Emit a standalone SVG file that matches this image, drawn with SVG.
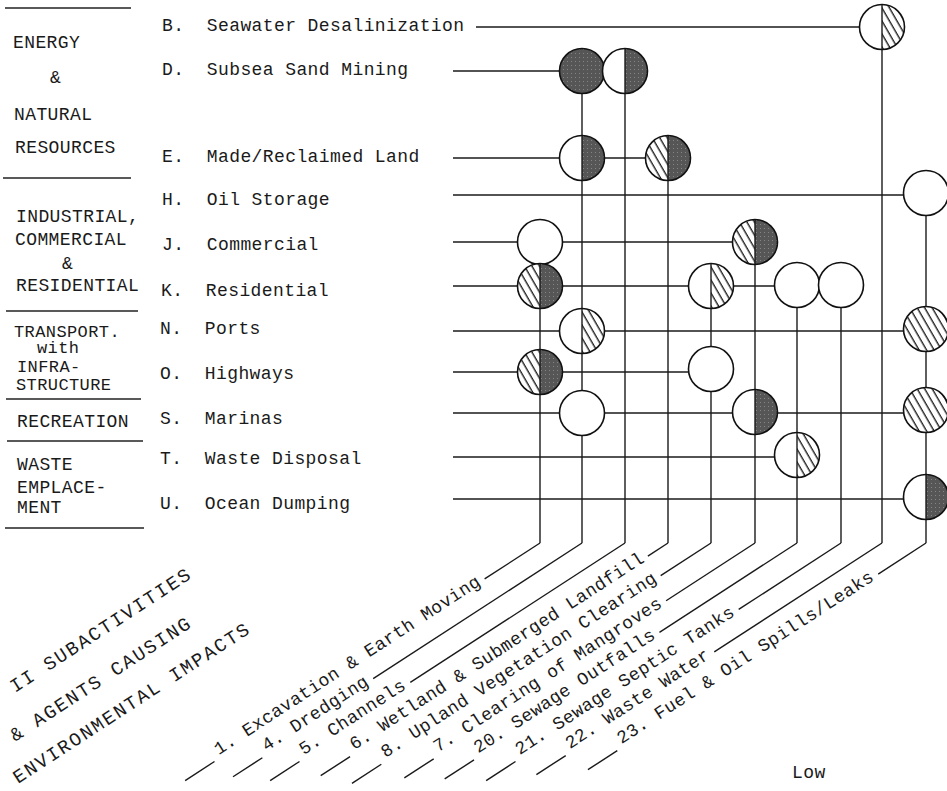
<svg xmlns="http://www.w3.org/2000/svg" xmlns:xlink="http://www.w3.org/1999/xlink" width="947" height="791" viewBox="0 0 947 791">
<style>
.t{font-family:"Liberation Mono","DejaVu Sans Mono",monospace;font-size:18px;letter-spacing:0.4px;fill:#1a1a1a;white-space:pre}
.ttl{font-family:"Liberation Mono","DejaVu Sans Mono",monospace;font-size:19px;letter-spacing:1.9px;fill:#1a1a1a;white-space:pre}
.ln{stroke:#1a1a1a;stroke-width:1.4;fill:none}
.rule{stroke:#222;stroke-width:1.6}
.co{fill:#fff;stroke:#111;stroke-width:1.6}
.ol{fill:none;stroke:#111;stroke-width:1.6}
</style>
<defs>
<pattern id="hatch" patternUnits="userSpaceOnUse" width="6.5" height="12" patternTransform="rotate(-30)">
<rect width="6.5" height="12" fill="#fff"/>
<line x1="3" y1="0" x2="3" y2="12" stroke="#111" stroke-width="1.3"/>
</pattern>
<pattern id="dark" patternUnits="userSpaceOnUse" width="4" height="4">
<rect width="4" height="4" fill="#565656"/>
<rect x="1" y="2" width="1" height="1" fill="#858585"/>
</pattern>
<g id="s-open"><circle r="22.5" class="co"/></g>
<g id="s-dark"><circle r="22.5" fill="url(#dark)"/><circle r="22.5" class="ol"/></g>
<g id="s-hatch"><circle r="22.5" fill="url(#hatch)"/><circle r="22.5" class="ol"/></g>
<g id="s-wd"><circle r="22.5" fill="#fff"/><path d="M0,-22.5 A22.5,22.5 0 0 1 0,22.5 Z" fill="url(#dark)"/><line x1="0" y1="-22.5" x2="0" y2="22.5" class="ln"/><circle r="22.5" class="ol"/></g>
<g id="s-hd"><path d="M0,-22.5 A22.5,22.5 0 0 0 0,22.5 Z" fill="url(#hatch)"/><path d="M0,-22.5 A22.5,22.5 0 0 1 0,22.5 Z" fill="url(#dark)"/><line x1="0" y1="-22.5" x2="0" y2="22.5" class="ln"/><circle r="22.5" class="ol"/></g>
<g id="s-wh"><path d="M0,-22.5 A22.5,22.5 0 0 0 0,22.5 Z" fill="#fff"/><path d="M0,-22.5 A22.5,22.5 0 0 1 0,22.5 Z" fill="url(#hatch)"/><line x1="0" y1="-22.5" x2="0" y2="22.5" class="ln"/><circle r="22.5" class="ol"/></g>
</defs>
<rect width="947" height="791" fill="#fff"/>

<g id="categories">
<line class="rule" x1="5" y1="8" x2="131" y2="8"/>
<text class="t" x="13" y="48">ENERGY</text>
<text class="t" x="50" y="83">&amp;</text>
<text class="t" x="14" y="120">NATURAL</text>
<text class="t" x="15" y="153">RESOURCES</text>
<line class="rule" x1="3" y1="178" x2="131" y2="178"/>
<text class="t" x="16" y="222">INDUSTRIAL,</text>
<text class="t" x="15" y="245">COMMERCIAL</text>
<text class="t" x="62" y="269">&amp;</text>
<text class="t" x="16" y="291">RESIDENTIAL</text>
<line class="rule" x1="6" y1="311" x2="138" y2="311"/>
<text class="t" x="14" y="337" style="font-size:17px">TRANSPORT.</text>
<text class="t" x="37" y="353" style="font-size:17px">with</text>
<text class="t" x="17" y="372" style="font-size:17px">INFRA-</text>
<text class="t" x="16" y="390" style="font-size:17px">STRUCTURE</text>
<line class="rule" x1="6" y1="399" x2="141" y2="399"/>
<text class="t" x="17" y="427">RECREATION</text>
<line class="rule" x1="7" y1="441" x2="143" y2="441"/>
<text class="t" x="17" y="470">WASTE</text>
<text class="t" x="17" y="493">EMPLACE-</text>
<text class="t" x="17" y="513">MENT</text>
<line class="rule" x1="5" y1="528" x2="144" y2="528"/>
</g>

<g id="row-labels">
<text class="t" x="162" y="31" xml:space="preserve">B.  Seawater Desalinization</text>
<text class="t" x="162" y="75" xml:space="preserve">D.  Subsea Sand Mining</text>
<text class="t" x="162" y="162" xml:space="preserve">E.  Made/Reclaimed Land</text>
<text class="t" x="162" y="205" xml:space="preserve">H.  Oil Storage</text>
<text class="t" x="162" y="250" xml:space="preserve">J.  Commercial</text>
<text class="t" x="161" y="296" xml:space="preserve">K.  Residential</text>
<text class="t" x="160" y="334" xml:space="preserve">N.  Ports</text>
<text class="t" x="160" y="379" xml:space="preserve">O.  Highways</text>
<text class="t" x="160" y="424" xml:space="preserve">S.  Marinas</text>
<text class="t" x="160" y="464" xml:space="preserve">T.  Waste Disposal</text>
<text class="t" x="160" y="509" xml:space="preserve">U.  Ocean Dumping</text>
</g>

<g id="connectors">
<line class="ln" x1="476" y1="27" x2="882" y2="27"/>
<line class="ln" x1="453" y1="71" x2="625" y2="71"/>
<line class="ln" x1="453" y1="158" x2="668" y2="158"/>
<line class="ln" x1="453" y1="195" x2="926" y2="195"/>
<line class="ln" x1="453" y1="242" x2="755" y2="242"/>
<line class="ln" x1="453" y1="286" x2="841" y2="286"/>
<line class="ln" x1="453" y1="331" x2="926" y2="331"/>
<line class="ln" x1="453" y1="372" x2="711" y2="372"/>
<line class="ln" x1="453" y1="413" x2="926" y2="413"/>
<line class="ln" x1="453" y1="457" x2="797" y2="457"/>
<line class="ln" x1="453" y1="499" x2="926" y2="499"/>
<line class="ln" x1="540" y1="242" x2="540" y2="543"/>
<line class="ln" x1="582" y1="71" x2="582" y2="543"/>
<line class="ln" x1="625" y1="71" x2="625" y2="543"/>
<line class="ln" x1="668" y1="158" x2="668" y2="543"/>
<line class="ln" x1="711" y1="286" x2="711" y2="543"/>
<line class="ln" x1="755" y1="242" x2="755" y2="543"/>
<line class="ln" x1="797" y1="286" x2="797" y2="543"/>
<line class="ln" x1="841" y1="286" x2="841" y2="543"/>
<line class="ln" x1="882" y1="27" x2="882" y2="543"/>
<line class="ln" x1="926" y1="195" x2="926" y2="543"/>
<line class="ln" transform="translate(540,543) rotate(-33)" x1="-66" y1="0" x2="0" y2="0"/>
<line class="ln" transform="translate(582,543) rotate(-33)" x1="-249" y1="0" x2="0" y2="0"/>
<line class="ln" transform="translate(625,543) rotate(-33)" x1="-256" y1="0" x2="0" y2="0"/>
<line class="ln" transform="translate(668,543) rotate(-33)" x1="-24" y1="0" x2="0" y2="0"/>
<line class="ln" transform="translate(711,543) rotate(-33)" x1="-60" y1="0" x2="0" y2="0"/>
<line class="ln" transform="translate(755,543) rotate(-33)" x1="-106" y1="0" x2="0" y2="0"/>
<line class="ln" transform="translate(797,543) rotate(-33)" x1="-164" y1="0" x2="0" y2="0"/>
<line class="ln" transform="translate(841,543) rotate(-33)" x1="-122" y1="0" x2="0" y2="0"/>
<line class="ln" transform="translate(882,543) rotate(-33)" x1="-200" y1="0" x2="0" y2="0"/>
<line class="ln" transform="translate(926,543) rotate(-33)" x1="-57" y1="0" x2="0" y2="0"/>
</g>

<g id="n-B22"><use href="#s-wh" x="882" y="27"/></g>
<g id="n-D4"><use href="#s-dark" x="582" y="71"/></g>
<g id="n-D5"><use href="#s-wd" x="625" y="71"/></g>
<g id="n-E4"><use href="#s-wd" x="582" y="158"/></g>
<g id="n-E6"><use href="#s-hd" x="668" y="158"/></g>
<g id="n-H23"><use href="#s-open" x="926" y="193"/></g>
<g id="n-J1"><use href="#s-open" x="540" y="242"/></g>
<g id="n-J7"><use href="#s-hd" x="755" y="242"/></g>
<g id="n-K1"><use href="#s-hd" x="540" y="286"/></g>
<g id="n-K8"><use href="#s-wh" x="711" y="286"/></g>
<g id="n-K20"><use href="#s-open" x="797" y="285"/></g>
<g id="n-K21"><use href="#s-open" x="841" y="285"/></g>
<g id="n-N4"><use href="#s-wh" x="582" y="331"/></g>
<g id="n-N23"><use href="#s-hatch" x="926" y="329"/></g>
<g id="n-O1"><use href="#s-hd" x="540" y="372"/></g>
<g id="n-O8"><use href="#s-open" x="711" y="369"/></g>
<g id="n-S4"><use href="#s-open" x="582" y="413"/></g>
<g id="n-S7"><use href="#s-wd" x="755" y="412"/></g>
<g id="n-S23"><use href="#s-hatch" x="926" y="410"/></g>
<g id="n-T20"><use href="#s-wh" x="797" y="455"/></g>
<g id="n-U23"><use href="#s-wd" x="926" y="497"/></g>

<g id="column-labels">
<g id="c1" transform="translate(540,543) rotate(-33)"><line class="ln" x1="-427" y1="6" x2="-392" y2="6"/><text class="t" x="-385" y="3">1. Excavation &amp; Earth Moving</text></g>
<g id="c4" transform="translate(582,543) rotate(-33)"><line class="ln" x1="-420" y1="6" x2="-385" y2="6"/><text class="t" x="-378" y="3">4. Dredging</text></g>
<g id="c5" transform="translate(625,543) rotate(-33)"><line class="ln" x1="-427" y1="6" x2="-392" y2="6"/><text class="t" x="-385" y="3">5. Channels</text></g>
<g id="c6" transform="translate(668,543) rotate(-33)"><line class="ln" x1="-418" y1="6" x2="-383" y2="6"/><text class="t" x="-376" y="3">6. Wetland &amp; Submerged Landfill</text></g>
<g id="c8" transform="translate(711,543) rotate(-33)"><line class="ln" x1="-432" y1="6" x2="-397" y2="6"/><text class="t" x="-390" y="3">8. Upland Vegetation Clearing</text></g>
<g id="c7" transform="translate(755,543) rotate(-33)"><line class="ln" x1="-422" y1="6" x2="-387" y2="6"/><text class="t" x="-380" y="3">7. Clearing of Mangroves</text></g>
<g id="c20" transform="translate(797,543) rotate(-33)"><line class="ln" x1="-424" y1="6" x2="-389" y2="6"/><text class="t" x="-382" y="3">20. Sewage Outfalls</text></g>
<g id="c21" transform="translate(841,543) rotate(-33)"><line class="ln" x1="-427" y1="6" x2="-392" y2="6"/><text class="t" x="-385" y="3">21. Sewage Septic Tanks</text></g>
<g id="c22" transform="translate(882,543) rotate(-33)"><line class="ln" x1="-416" y1="6" x2="-381" y2="6"/><text class="t" x="-374" y="3">22. Waste Water</text></g>
<g id="c23" transform="translate(926,543) rotate(-33)"><line class="ln" x1="-407" y1="6" x2="-372" y2="6"/><text class="t" x="-365" y="3">23. Fuel &amp; Oil Spills/Leaks</text></g>
</g>

<g id="title">
<text class="ttl" transform="translate(15,693) rotate(-33)">II SUBACTIVITIES</text>
<text class="ttl" transform="translate(15,742) rotate(-33)">&amp; AGENTS CAUSING</text>
<text class="ttl" transform="translate(18,784) rotate(-33)">ENVIRONMENTAL IMPACTS</text>
</g>

<g id="legend-low">
<text class="t" x="792" y="778">Low</text>
</g>
</svg>
